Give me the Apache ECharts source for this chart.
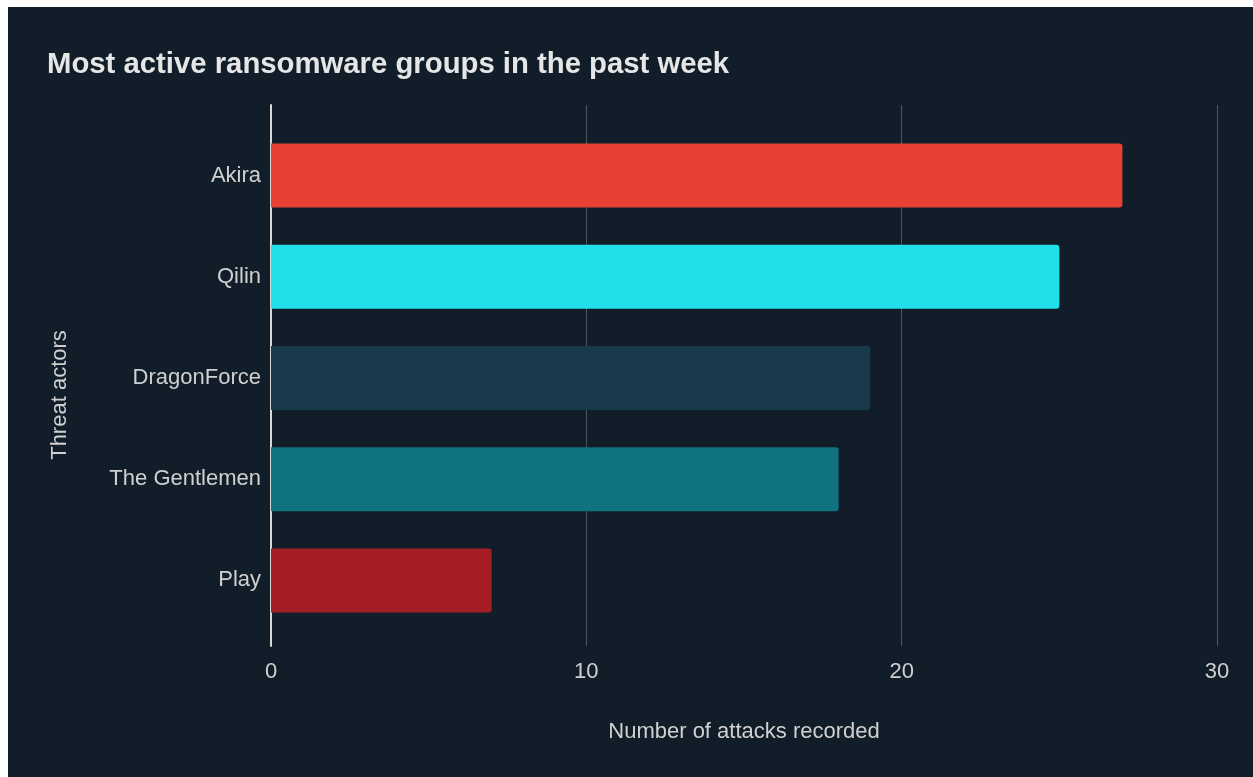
<!DOCTYPE html>
<html>
<head>
<meta charset="utf-8">
<style>
html, body { margin: 0; padding: 0; background: #ffffff; }
#myChart { position: absolute; left: 8px; top: 7px; width: 1245px; height: 770px; }
</style>
<script src="https://cdn.jsdelivr.net/npm/echarts@6/dist/echarts.min.js"></script>
</head>
<body>
<div id="myChart"></div>
<script>
// data
const groups = ['Akira', 'Qilin', 'DragonForce', 'The Gentlemen', 'Play']
const attacks = [27, 25, 19, 18, 7]
const barColors = ['#e64134', '#22e0ea', '#193a4b', '#10717f', '#a51d24']
const xTicks = [0, 10, 20, 30]

const FONT = '"Liberation Sans", Arial, sans-serif'

const myChart = echarts.init(document.getElementById('myChart'))

myChart.setOption({
  backgroundColor: '#111e29',
  animation: false,
  textStyle: { fontFamily: FONT },
  title: {
    text: 'Most active ransomware groups in the past week',
    left: 34,
    top: 38,
    textStyle: {
      color: '#e6e6e6',
      fontSize: 29.3,
      fontWeight: 'bold',
      fontFamily: FONT
    }
  },
  graphic: [
    {
      type: 'text',
      x: 52,
      y: 388,
      rotation: Math.PI / 2,
      style: {
        text: 'Threat actors',
        fill: '#d0d0d0',
        font: '22px "Liberation Sans", Arial, sans-serif',
        align: 'center',
        verticalAlign: 'middle'
      }
    }
  ],
  grid: [
    // axis frame + gridlines
    { left: 263, right: 36, top: 98, bottom: 131 },
    // bars
    { left: 263, right: 36, top: 118, bottom: 146 }
  ],
  xAxis: [
    {
      gridIndex: 0,
      type: 'value',
      min: xTicks[0],
      max: xTicks[xTicks.length - 1],
      interval: 10,
      name: 'Number of attacks recorded',
      nameLocation: 'middle',
      nameGap: 75,
      nameTextStyle: { color: '#d0d0d0', fontSize: 22, fontFamily: FONT },
      axisLine: { show: false },
      axisTick: { show: false },
      axisLabel: { color: '#d0d0d0', fontSize: 22, margin: 15, fontFamily: FONT },
      splitLine: { lineStyle: { color: '#4b5661', width: 1 } }
    },
    {
      gridIndex: 1,
      type: 'value',
      min: 0,
      max: 30,
      show: false
    }
  ],
  yAxis: [
    {
      gridIndex: 0,
      type: 'value',
      axisLine: { show: true, lineStyle: { color: '#d8d8d8', width: 2 } },
      axisTick: { show: false },
      axisLabel: { show: false },
      splitLine: { show: false }
    },
    {
      gridIndex: 1,
      type: 'category',
      inverse: true,
      data: groups,
      axisLine: { show: false },
      axisTick: { show: false },
      axisLabel: { color: '#d0d0d0', fontSize: 22, margin: 10, fontFamily: FONT }
    }
  ],
  series: [
    {
      type: 'bar',
      xAxisIndex: 1,
      yAxisIndex: 1,
      barWidth: 64,
      data: attacks.map((v, i) => ({
        value: v,
        itemStyle: { color: barColors[i], borderRadius: [0, 3, 3, 0] }
      }))
    }
  ]
})
</script>
</body>
</html>
